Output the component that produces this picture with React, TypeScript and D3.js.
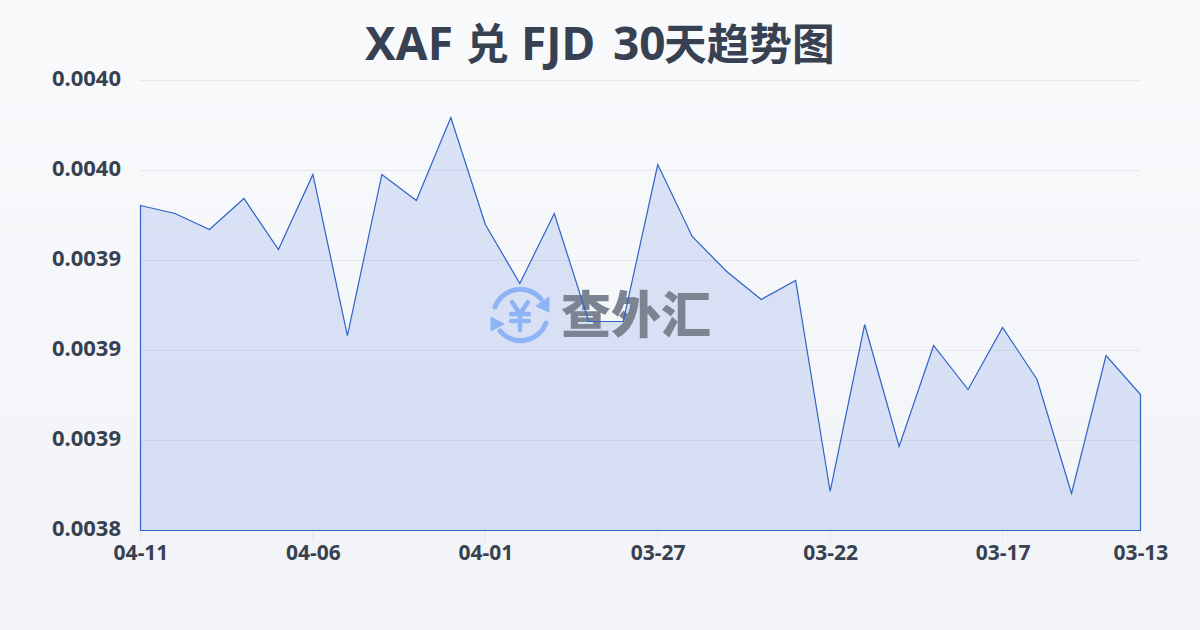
import React from "react";
import * as d3 from "d3";

const titleParts = ["XAF", "兑", "FJD", "30", "天趋势图"];
const dates = ["04-11","","","","","04-06","","","","","04-01","","","","","03-27","","","","","03-22","","","","","03-17","","","","03-13"];
const rates = [0.00398056,0.00397611,0.00396722,0.00398444,0.00395611,0.00399778,0.00390833,0.00399778,0.00398333,0.00402944,0.00397,0.00393722,0.00397611,0.00391611,0.00391611,0.00400333,0.00396333,0.00394389,0.00392833,0.00393889,0.00382167,0.00391444,0.00384667,0.00390278,0.00387833,0.00391278,0.00388389,0.00382056,0.00389722,0.00387556];
const yTicks = [0.0038,0.00385,0.0039,0.00395,0.004,0.00405];
const yLabels = ["0.0038","0.0039","0.0039","0.0039","0.0040","0.0040"];

const W = 1200, H = 630;
const x = d3.scaleLinear().domain([0, rates.length - 1]).range([140, 1140]);
const y = d3.scaleLinear().domain([0.0038, 0.00405]).range([530, 80]);
const font = "'Noto Sans','Noto Sans CJK SC',sans-serif";
const cjk = "'Noto Sans CJK SC',sans-serif";
const ink = "#374151";
const logo = "#8fb4f5";

export default function App() {
  const area = d3.area<number>().x((_, i) => x(i)).y0(530).y1(d => y(d))(rates)!;
  return (
    <svg width={W} height={H} viewBox={`0 0 ${W} ${H}`} style={{ position: "fixed", left: 0, top: 0, display: "block" }}>
      <defs>
        <linearGradient id="bg" x1="0" y1="0" x2="0" y2="1">
          <stop offset="0" stopColor="#f8fafc" />
          <stop offset="1" stopColor="#f1f3f6" />
        </linearGradient>
      </defs>
      <rect width={W} height={H} fill="url(#bg)" />
      <text y={60} fontWeight={700} fill={ink}>
        <tspan x={365} fontFamily={font} fontSize={46}>{titleParts[0]}</tspan>
        <tspan x={466} fontFamily={cjk} fontSize={42.7}>{titleParts[1]}</tspan>
        <tspan x={521} fontFamily={font} fontSize={46}>{titleParts[2]}</tspan>
        <tspan x={613} fontFamily={font} fontSize={46}>{titleParts[3]}</tspan>
        <tspan x={664} fontFamily={cjk} fontSize={42.7}>{titleParts[4]}</tspan>
      </text>
      {yTicks.map((t, i) => (
        <g key={i}>
          <line x1={140} x2={1140} y1={y(t) + 0.5} y2={y(t) + 0.5} stroke="#e5e7eb" strokeWidth={1} />
          <text x={121} y={y(t) + 5.5} textAnchor="end" fontFamily={font} fontWeight={700} fontSize={22} fill={ink}>{yLabels[i]}</text>
        </g>
      ))}
      {dates.map((d, i) => d && (
        <g key={i}>
          <line x1={x(i) + 0.5} x2={x(i) + 0.5} y1={530} y2={541} stroke="#e5e7eb" strokeWidth={1} />
          <text x={x(i) + 1} y={560} textAnchor="middle" fontFamily={font} fontWeight={700} fontSize={21} fill={ink}>{d}</text>
        </g>
      ))}
      <path d={area} fill="#2d5fdc" fillOpacity={0.14} transform="translate(0.5,0.5)" />
      <g>
        <g fill="none" stroke={logo} strokeWidth={5} strokeLinecap="round">
          <path d="M495 307 A27 27 0 0 1 541 299" />
          <path d="M546 323 A27 27 0 0 1 500 331" />
          <path d="M512 302 L520 314 L528 302 M511 314 H529 M511 321 H529 M520 314 V330" strokeWidth={4.5} />
        </g>
        <path d="M549 297 L549 312 L536 306 Z" fill={logo} stroke={logo} strokeLinejoin="round" />
        <path d="M491 317 L491 331 L504 324 Z" fill={logo} stroke={logo} strokeLinejoin="round" />
        <text x={636} y={333} textAnchor="middle" fontFamily="'Noto Sans CJK SC'" fontWeight={900} fontSize={50} fill="#7c8492">查外汇</text>
      </g>
      <path d={area} fill="none" stroke="#3063c5" strokeWidth={1.2} transform="translate(0.5,0.5)" />
    </svg>
  );
}
